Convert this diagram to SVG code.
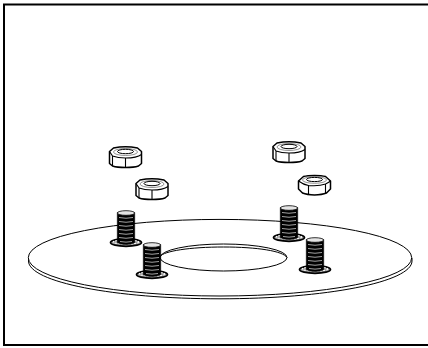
<svg xmlns="http://www.w3.org/2000/svg" width="428" height="348" viewBox="0 0 428 348">
<style>
.l{fill:none;stroke:#000;stroke-width:1}
.w{fill:#fff;stroke:#000;stroke-width:1}
.n{fill:#fff;stroke:#000;stroke-width:1.500;stroke-linejoin:round}
.t{fill:none;stroke:#000;stroke-width:1.100}
.h{fill:none;stroke:#000;stroke-width:1}
.r{fill:none;stroke:#777;stroke-width:.8}
.b{fill:#000;stroke:#000;stroke-width:.6}
.g{fill:none;stroke:#ccc;stroke-width:.8}
.f{fill:#999;stroke:#000;stroke-width:1.700}
.d{fill:none;stroke:#fff;stroke-width:1.100;stroke-dasharray:2 1.200}
.c{fill:#e4e4e4;stroke:#000;stroke-width:.8}
</style>
<defs>
<g id="nutA">
<path class="n" d="M-16-6 L-12-9.500 C-5-11 5-11 12-9.500 L16-6 V6 L13 8.500 C7 10.500 -7 10.500 -13 8.500 L-16 6 Z"/>
<path class="t" d="M-16-6 L-13-1.500 V8.500 M-13-1.500 C-9 0 -4 .5 0 .5 V10 M0 .5 C6 .5 12 0 16-3"/>
<ellipse class="r" cx="0" cy="-5.500" rx="12" ry="3.500"/>
<ellipse class="h" cx="0" cy="-6" rx="8" ry="2.200"/>
</g>
<g id="nutB">
<path class="n" d="M-16-4 L-11-8.500 C-6-10 6-10 11-8.500 L16-4 V4 L12 8 C6 10.500 -6 10.500 -12 8 L-16 4 Z"/>
<path class="t" d="M-16-4 C-12-1 -9 0 -6 .5 V10 M-6 .5 C0 1 7 .5 11-1 V8.500 M11-1 C13-2 15-3 16-4"/>
<ellipse class="r" cx="0" cy="-5" rx="12" ry="3.300"/>
<ellipse class="h" cx="0" cy="-5.500" rx="8" ry="2.100"/>
</g>
<g id="bolt">
<ellipse class="f" cx="0" cy="31" rx="15.500" ry="3.800"/>
<ellipse class="d" cx="0" cy="30.500" rx="12.800" ry="2"/>
<path class="b" d="M-8.700 1 V31 C-5 33.500 5 33.500 8.700 31 V1 Z"/>
<ellipse class="c" cx="0" cy="1.500" rx="8.700" ry="2.300"/>
<path class="g" d="M-7 6 Q0 7.500 7 6 M-7 10 Q0 11.500 7 10 M-7 14 Q0 15.500 7 14 M-7 18 Q0 19.500 7 18 M-7 22 Q0 23.500 7 22 M-7 26 Q0 27.500 7 26 M-6 30 Q0 31.300 6 30"/>
</g>
</defs>
<g id="frame"><rect x="4" y="4.500" width="426" height="340.500" fill="#fff" stroke="#000" stroke-width="2"/></g>
<g id="disc">
<path class="l" d="M28.500 258 V261 C28.500 282 114 298.800 220 298.800 S412 282 412 261 V258"/>
<ellipse class="w" cx="220" cy="257.700" rx="191.700" ry="38.300"/>
<ellipse class="w" cx="223.500" cy="257.500" rx="63.500" ry="13.500"/>
<path class="l" d="M160 256.500 C164 251 190 247 223.500 247 S283 251 287 257.500"/>
</g>
<g id="nut1"><use href="#nutA" x="125.500" y="157.500"/></g>
<g id="nut2"><use href="#nutA" x="152" y="189.500"/></g>
<g id="nut3"><use href="#nutA" x="289" y="152.500"/></g>
<g id="nut4"><use href="#nutB" x="314.500" y="185"/></g>
<g id="bolt1"><use href="#bolt" x="126" y="211.500"/></g>
<g id="bolt2"><use href="#bolt" x="152" y="243.500"/></g>
<g id="bolt3"><use href="#bolt" x="289" y="206.500"/></g>
<g id="bolt4"><use href="#bolt" x="315" y="238.500"/></g>
</svg>
